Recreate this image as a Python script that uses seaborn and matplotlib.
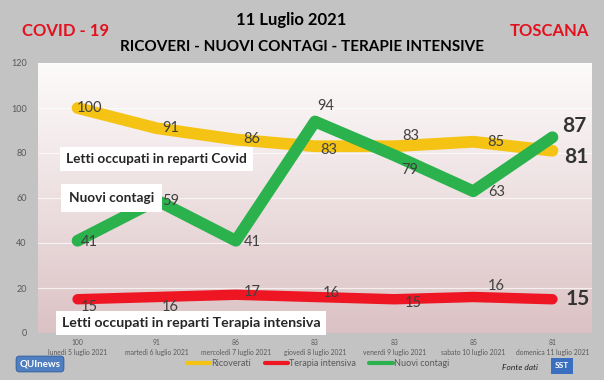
import numpy as np
import pandas as pd
import matplotlib
matplotlib.use("Agg")
import matplotlib.pyplot as plt
from matplotlib.lines import Line2D
import seaborn as sns

# ---------------------------------------------------------
# Dati (Toscana, 5-11 luglio 2021)
# ---------------------------------------------------------
giorni = ["lunedì 5 luglio 2021", "martedì 6 luglio 2021", "mercoledì 7 luglio 2021",
          "giovedì 8 luglio 2021", "venerdì 9 luglio 2021", "sabato 10 luglio 2021",
          "domenica 11 luglio 2021"]
ricoverati = [100, 91, 86, 83, 83, 85, 81]
terapia_intensiva = [15, 16, 17, 16, 15, 16, 15]
nuovi_contagi = [41, 59, 41, 94, 79, 63, 87]

# offset etichette (pixel) per ogni serie
off_ric = [(12, 0), (14, 0), (16, 0), (14, -4), (17, 10), (23, 0), (24, -6)]
off_ti = [(12, -8), (14, -10), (16, 3), (16, 4), (19, -4), (23, 11), (25, 0)]
off_nc = [(12, -1), (14, -1), (16, -1), (11, 15), (16, -15), (23, -1), (22, 11)]

GIALLO = "#f5c314"
ROSSO = "#ee1622"
VERDE = "#2bb24c"
SFONDO = "#c3c3c3"

sns.set_style("white")
plt.rcParams["font.family"] = ["Lato", "DejaVu Sans"]

W, H = 604, 380
fig = plt.figure(figsize=(W / 100, H / 100), dpi=100, facecolor=SFONDO)
ax = fig.add_axes([38 / W, 1 - 333 / H, (592 - 38) / W, (333 - 63) / H])

x = np.arange(len(giorni))
df = pd.DataFrame({"x": np.tile(x, 3),
                   "valore": ricoverati + terapia_intensiva + nuovi_contagi,
                   "serie": ["Ricoverati"] * 7 + ["Terapia intensiva"] * 7 + ["Nuovi contagi"] * 7})

# sfondo sfumato dell'area grafico
grad = np.linspace(0, 1, 256).reshape(-1, 1)
top = np.array([0.99, 0.98, 0.98])
bot = np.array([0.86, 0.76, 0.77])
img = top + (bot - top) * grad[..., None] ** 1.1
ax.imshow(img.reshape(256, 1, 3), extent=(-0.5, 6.5, 0, 120), aspect="auto", zorder=0)

for v in range(20, 121, 20):
    ax.axhline(v, color="white", lw=0.8, alpha=0.7, zorder=1)

palette = {"Ricoverati": GIALLO, "Terapia intensiva": ROSSO, "Nuovi contagi": VERDE}
widths = {"Ricoverati": 8.5, "Terapia intensiva": 7.5, "Nuovi contagi": 8.5}
for s in ["Ricoverati", "Terapia intensiva", "Nuovi contagi"]:
    sns.lineplot(data=df[df.serie == s], x="x", y="valore", color=palette[s],
                 lw=widths[s], ax=ax, zorder=3, legend=False)

ax.set_xlim(-0.5, 6.5)
ax.set_ylim(0, 120)
ax.set_yticks(range(0, 121, 20))
ax.tick_params(axis="y", labelsize=6.5, labelcolor="#595959", length=0, pad=8)
ax.set_xticks(x)
ax.set_xticklabels([f"{r}\n{g}" for r, g in zip(ricoverati, giorni)],
                   fontsize=4.9, color="#595959", linespacing=1.6)
ax.tick_params(axis="x", length=0, pad=4)
ax.set_xlabel("")
ax.set_ylabel("")
for sp in ax.spines.values():
    sp.set_visible(False)

# etichette valori
for serie, offs in [(ricoverati, off_ric), (terapia_intensiva, off_ti), (nuovi_contagi, off_nc)]:
    for i, (val, (dx, dy)) in enumerate(zip(serie, offs)):
        last = i == len(serie) - 1
        ax.annotate(str(val), (i, val), xytext=(dx * 0.72, dy * 0.72), textcoords="offset points",
                    ha="center", va="center", color="#333333" if last else "#404040",
                    fontsize=15 if last else 10.5, fontweight="bold" if last else "normal",
                    zorder=5)

# riquadri descrittivi
def px(xp, yp):
    return xp / W, 1 - yp / H

fig.text(*px(66, 159), "Letti occupati in reparti Covid", fontsize=9.8, fontweight="bold",
         va="center", ha="left", bbox=dict(boxstyle="square,pad=0.45", fc="white", ec="none"),
         zorder=6)
fig.text(*px(69, 198), "Nuovi contagi", fontsize=9.8, fontweight="bold", va="center",
         ha="left", bbox=dict(boxstyle="square,pad=0.6", fc="white", ec="none"), zorder=6)
fig.text(*px(62, 323), "Letti occupati in reparti Terapia intensiva", fontsize=10.2,
         fontweight="bold", va="center", ha="left",
         bbox=dict(boxstyle="square,pad=0.4", fc="white", ec="none"), zorder=6)

# titoli
fig.text(*px(66, 31), "COVID - 19", color="#e3101e", fontsize=12, fontweight="bold",
         ha="center", va="center")
fig.text(*px(549, 31), "TOSCANA", color="#e3101e", fontsize=12, fontweight="bold",
         ha="center", va="center")
fig.text(*px(291, 20), "11 Luglio 2021", color="black", fontsize=12, fontweight="bold",
         ha="center", va="center")
fig.text(*px(302, 47), "RICOVERI - NUOVI CONTAGI - TERAPIE INTENSIVE", color="black",
         fontsize=11, fontweight="bold", ha="center", va="center")

# legenda
handles = [Line2D([], [], color=palette[s], lw=3) for s in palette]
fig.legend(handles, list(palette), loc="center", bbox_to_anchor=px(318, 364), ncol=3,
           frameon=False, fontsize=6.5, labelcolor="#595959", handlelength=2.6,
           handletextpad=0.1, columnspacing=1.5)

# loghi / fonte
fig.text(*px(40, 364), "QUInews", fontsize=7, fontweight="bold", color="white",
         ha="center", va="center",
         bbox=dict(boxstyle="round,pad=0.35", fc="#4f7fc0", ec="#2d5a9a", lw=0.6))
fig.text(*px(520, 367), "Fonte dati", fontsize=6, style="italic", color="#222222",
         ha="center", va="center")
fig.text(*px(562, 366), "SST", fontsize=6, fontweight="bold", color="white",
         ha="center", va="center",
         bbox=dict(boxstyle="square,pad=0.5", fc="#3a6fc0", ec="none"))

fig.savefig("out.png", dpi=100, facecolor=fig.get_facecolor())
